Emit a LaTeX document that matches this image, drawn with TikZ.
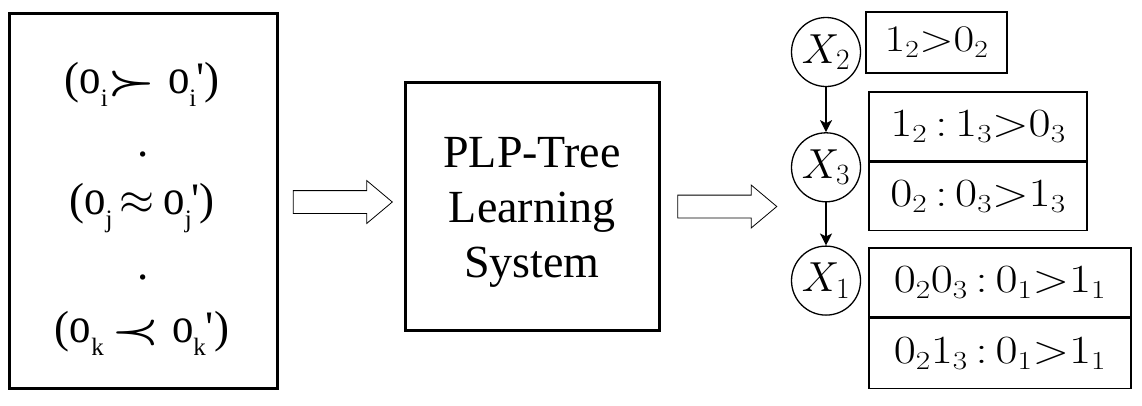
\RequirePackage{fix-cm}
\documentclass[tikz,border=0pt]{standalone}
\usepackage{amsmath}
\usepackage{fontspec}
\setmainfont{Liberation Serif}
\usetikzlibrary{shapes.arrows, arrows.meta, positioning, calc}

\DeclareMathSizes{40}{40}{26}{18}
\DeclareMathSizes{37.5}{37.5}{24.5}{17}

\newcommand{\lsub}[1]{\raisebox{-13pt}{\fontsize{25}{25}\selectfont #1}}
\newcommand{\oo}{\scalebox{0.95}[1.12]{o}}
\newcommand{\oq}{\textquotesingle}
\newcommand{\rel}[1]{\scalebox{1.2}[0.85]{$\boldsymbol{#1}$}}
\newcommand{\wide}[1]{\scalebox{1.2}[1]{$#1$}}
\newcommand{\cl}{\mskip3mu{:}\mskip3mu}

\begin{document}
\begin{tikzpicture}[x=1pt, y=-1pt,
  heavybox/.style={draw, line width=3pt, inner sep=0pt},
  pairtext/.style={anchor=base, font=\fontsize{45}{50}\selectfont},
  fatarrow/.style={single arrow, draw, line width=0.8pt, minimum height=99pt,
    inner xsep=0pt, inner ysep=11pt, single arrow head extend=10pt,
    single arrow tip angle=80},
  var/.style={circle, draw, line width=1.3pt, minimum size=69pt, inner sep=0pt,
    font=\fontsize{42}{50}\selectfont},
  cpt/.style={draw, line width=1.3pt, inner sep=0pt, font=\fontsize{40}{48}\selectfont},
  dep/.style={-{Stealth[length=12pt, width=12pt, inset=3pt]}, line width=1.3pt}]
  \useasboundingbox (0,0) rectangle (1142,405);

  % input preferences
  \node[heavybox, minimum width=268pt, minimum height=375pt] (pairs) at (143,200.5) {};
  \node[pairtext] (pi) at (142,93) {(\oo\lsub{i}\rel{\succ}\hspace{12pt}\oo\lsub{i}\oq)};
  \node[pairtext] (dot1) at (143,156) {.};
  \node[pairtext] (pj) at (142,214) {(\oo\lsub{j}\hspace{7pt}$\approx$\hspace{9pt}\oo\lsub{j}\oq)};
  \node[pairtext] (dot2) at (143,279) {.};
  \node[pairtext] (pk) at (142,342) {(\oo\lsub{k}\hspace{8pt}\rel{\prec}\hspace{12pt}\oo\lsub{k}\oq)};

  % learner
  \node[heavybox, minimum width=254pt, minimum height=248pt] (plp) at (532,206) {};
  \node[align=center, font=\fontsize{46}{55}\selectfont] (plptext) at ($(plp.center)+(0,6)$)
    {PLP-Tree\\Learning\\System};

  \node[fatarrow] (in) at (336,202) {};
  \node[fatarrow] (out) at (720.5,206.5) {};

  % learned tree
  \node[var] (x2) at (826,52) {$X_2$};
  \node[var, below=45pt of x2] (x3) {$X_3$};
  \node[var, below=43pt of x3] (x1) {$X_1$};
  \draw[dep] (x2) -- (x3);
  \draw[dep] (x3) -- (x1);

  \node[cpt, minimum width=141pt, minimum height=61pt, font=\fontsize{37.5}{45}\selectfont]
    (t2) at (936.5,42.5) {\wide{1_2{>}0_2}};
  \node[cpt, minimum width=218pt, minimum height=69pt] (t3a) at (978,126.5) {\wide{1_2\cl 1_3{>}0_3}};
  \node[cpt, minimum width=218pt, minimum height=68pt, below=0pt of t3a] (t3b) {\wide{0_2\cl 0_3{>}1_3}};
  \node[cpt, minimum width=262pt, minimum height=69pt] (t1a) at (1000,282.5) {\wide{0_20_3\cl 0_1{>}1_1}};
  \node[cpt, minimum width=262pt, minimum height=70pt, below=0pt of t1a] (t1b) {\wide{0_21_3\cl 0_1{>}1_1}};
\end{tikzpicture}
\end{document}
